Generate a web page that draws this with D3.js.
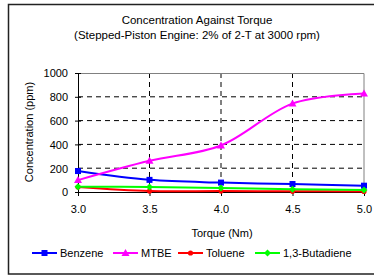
<!DOCTYPE html>
<html>
<head>
<meta charset="utf-8">
<script src="https://cdn.jsdelivr.net/npm/d3@7"></script>
<style>
  body { margin: 0; background: #fff; }
  svg { font-family: "Liberation Sans", Arial, sans-serif; }
</style>
</head>
<body>
<svg class="chart" width="374" height="277"></svg>
<script>
const torque = [3.0, 3.5, 4.0, 4.5, 5.0]
const benzene = [176, 102, 79, 67, 53]
const mtbe = [100, 262, 391, 743, 827]
const toluene = [42, 8, 8, 6, 5]
const butadiene = [45, 42, 34, 23, 17]
const xTicks = [3.0, 3.5, 4.0, 4.5, 5.0]
const yTicks = [0, 200, 400, 600, 800, 1000]

const series = [
    {name: "Benzene", values: benzene, color: "#0000ff", marker: "square"},
    {name: "MTBE", values: mtbe, color: "#ff00ff", marker: "triangle"},
    {name: "Toluene", values: toluene, color: "#ff0000", marker: "circle"},
    {name: "1,3-Butadiene", values: butadiene, color: "#00ff00", marker: "diamond"}
]

const margin = {top: 73, left: 78}
const width = 286, height = 119

let svg = d3.select('.chart')

// outer frame
svg.append("rect")
    .attr("x", 8.5).attr("y", 4.5)
    .attr("width", 380).attr("height", 269.5)
    .attr("fill", "none").attr("stroke", "#222").attr("stroke-width", 1.5)

svg.append("text").attr("x", 197).attr("y", 24)
    .attr("text-anchor", "middle").attr("font-size", 11.5)
    .text("Concentration Against Torque")
svg.append("text").attr("x", 197).attr("y", 39)
    .attr("text-anchor", "middle").attr("font-size", 11.5)
    .text("(Stepped-Piston Engine: 2% of 2-T at 3000 rpm)")

let g = svg.append("g").attr("transform", `translate(${margin.left},${margin.top})`)

let x = d3.scaleLinear().domain([3, 5]).range([0, width])
let y = d3.scaleLinear().domain([0, 1000]).range([height, 0])

// grid
g.selectAll(".hgrid").data(yTicks.filter(d => d > 0 && d < 1000))
    .enter().append("line")
    .attr("x1", 0).attr("x2", width)
    .attr("y1", d => y(d)).attr("y2", d => y(d))
    .attr("stroke", "#000").attr("stroke-dasharray", "5,4")
g.selectAll(".vgrid").data(xTicks.filter(d => d > 3 && d < 5))
    .enter().append("line")
    .attr("x1", d => x(d)).attr("x2", d => x(d))
    .attr("y1", 0).attr("y2", height)
    .attr("stroke", "#000").attr("stroke-dasharray", "5,4")

// plot border (top / right)
g.append("path")
    .attr("d", `M0,0.5H${width}V${height}`)
    .attr("fill", "none").attr("stroke", "#808080")

// axes
g.append("g")
    .attr("transform", `translate(0,${height})`)
    .call(d3.axisBottom(x).tickValues(xTicks).tickFormat(d3.format(".1f")).tickSizeInner(4).tickSizeOuter(0).tickPadding(9))
    .call(a => a.select(".domain").attr("stroke", "#000"))
    .call(a => a.selectAll("text").attr("font-size", 11).attr("fill", "#000").attr("font-family", null))

let yAxis = g.append("g")
    .call(d3.axisLeft(y).tickValues(yTicks).tickFormat(d3.format("d")).tickSizeInner(3).tickSizeOuter(0).tickPadding(7))
yAxis.select(".domain").attr("stroke", "#000")
yAxis.selectAll(".tick line").attr("x2", 3).attr("x1", -3)
yAxis.selectAll("text").attr("font-size", 11).attr("fill", "#000").attr("font-family", null).attr("dy", "0.35em")

svg.append("text")
    .attr("transform", "translate(33,132) rotate(-90)")
    .attr("text-anchor", "middle").attr("font-size", 11)
    .text("Concentration (ppm)")
svg.append("text").attr("x", 222).attr("y", 237)
    .attr("text-anchor", "middle").attr("font-size", 11)
    .text("Torque (Nm)")

let line = d3.line()
    .x((d, i) => x(torque[i]))
    .y(d => y(d))
    .curve(d3.curveCatmullRom.alpha(0.5))

function drawMarker(sel, type, color){
    if(type === "square"){
        sel.append("rect").attr("x", -3).attr("y", -3).attr("width", 6).attr("height", 6).attr("fill", color)
    } else if(type === "triangle"){
        sel.append("path").attr("d", "M0,-4L4,3L-4,3Z").attr("fill", color)
    } else if(type === "circle"){
        sel.append("circle").attr("r", 2.6).attr("fill", color)
    } else {
        sel.append("path").attr("d", "M0,-3.5L3.5,0L0,3.5L-3.5,0Z").attr("fill", color)
    }
}

series.forEach(function(s){
    g.append("path")
        .attr("d", line(s.values))
        .attr("fill", "none").attr("stroke", s.color).attr("stroke-width", 2)
})
series.forEach(function(s){
    s.values.forEach(function(v, i){
        let m = g.append("g").attr("transform", `translate(${x(torque[i])},${y(v)})`)
        drawMarker(m, s.marker, s.color)
    })
})

// legend
const legendX = [32, 113, 178, 255]
series.forEach(function(s, i){
    let lg = svg.append("g").attr("transform", `translate(${legendX[i]},253)`)
    lg.append("line").attr("x1", 0).attr("x2", 25).attr("stroke", s.color).attr("stroke-width", 2)
    let m = lg.append("g").attr("transform", "translate(12.5,0)")
    drawMarker(m, s.marker, s.color)
    lg.append("text").attr("x", 28).attr("y", 4).attr("font-size", 11).text(s.name)
})
</script>
</body>
</html>
